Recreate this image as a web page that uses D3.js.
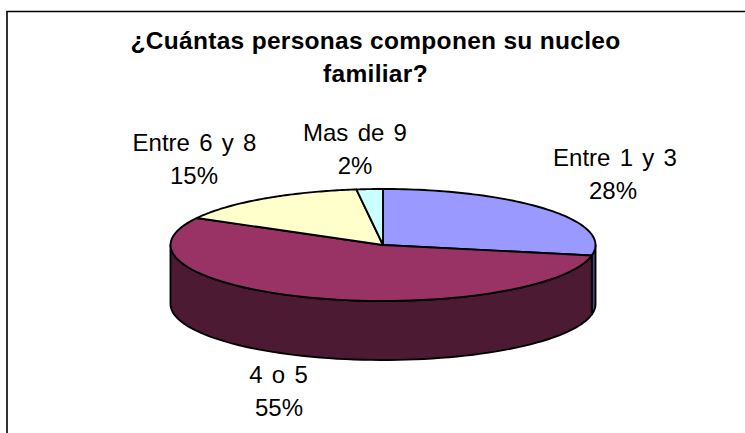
<!DOCTYPE html>
<html><head><meta charset="utf-8">
<script src="https://cdn.jsdelivr.net/npm/d3@7"></script>
<style>html,body{margin:0;padding:0;background:#fff;overflow:hidden}svg{display:block}text{font-family:"Liberation Sans",Arial,sans-serif;fill:#000}</style>
</head><body><svg id="c" width="745" height="433"></svg>
<script>
const categories = ["Entre 1 y 3","4 o 5","Entre 6 y 8","Mas de 9"];
const values = [28,55,15,2];
const percentLabels = ["28%","55%","15%","2%"];
const topColors = ["#9999ff","#993366","#ffffcc","#ccffff"];
const sideColors = ["#4c4c80","#4d1a33","#808066","#668080"];
const titleLines = ["¿Cuántas personas componen su nucleo","familiar?"];
const labelX = [615,278.5,194.5,355];
const percentX = [613,279,194,355];
const labelY = [166,383,151,141];

const svg = d3.select("#c");
svg.append("path").attr("d",d3.line()([[7,440],[7,11.5],[745,11.5]]))
  .attr("fill","none").attr("stroke","#000").attr("stroke-width",1.6);

const cx=383, cy=245, rx=212.5, ry=56, depth=59;
const sx=d3.scaleLinear().domain([-1,1]).range([cx-rx,cx+rx]);
const sy=d3.scaleLinear().domain([-1,1]).range([cy-ry,cy+ry]);
const arcs=d3.pie().sort(null).value(d=>d)(values);
const pt=(a,dz=0)=>[sx(Math.sin(a)),sy(-Math.cos(a))+dz];
const samples=(a0,a1,dz=0)=>d3.range(0,73).map(i=>pt(a0+(a1-a0)*i/72,dz));
const line=d3.line();
const g=svg.append("g").attr("stroke","#000").attr("stroke-width",1.9).attr("stroke-linejoin","round");

// visible side wall: the front half of the rim, angles from PI/2 to 3PI/2
arcs.forEach((d,i)=>{
  const a0=Math.max(d.startAngle,Math.PI/2), a1=Math.min(d.endAngle,1.5*Math.PI);
  if(a1<=a0) return;
  const top=samples(a0,a1), bottom=samples(a1,a0,depth);
  g.append("path").attr("d",line(top.concat(bottom))+"Z").attr("fill",sideColors[i]);
});
arcs.forEach((d,i)=>{
  g.append("path").attr("d",line([[cx,cy]].concat(samples(d.startAngle,d.endAngle)))+"Z").attr("fill",topColors[i]);
});

svg.selectAll("text.t").data(titleLines).join("text").attr("class","t")
  .attr("x",375.5).attr("y",(d,i)=>49+i*33).attr("text-anchor","middle")
  .attr("font-size",24.5).attr("font-weight","bold").attr("letter-spacing",0.3).text(d=>d);

categories.forEach((c,i)=>{
  svg.append("text").attr("x",labelX[i]).attr("y",labelY[i]).attr("text-anchor","middle")
    .attr("font-size",24).attr("word-spacing",2.6).text(c);
  svg.append("text").attr("x",percentX[i]).attr("y",labelY[i]+33).attr("text-anchor","middle")
    .attr("font-size",24).text(percentLabels[i]);
});
</script></body></html>
